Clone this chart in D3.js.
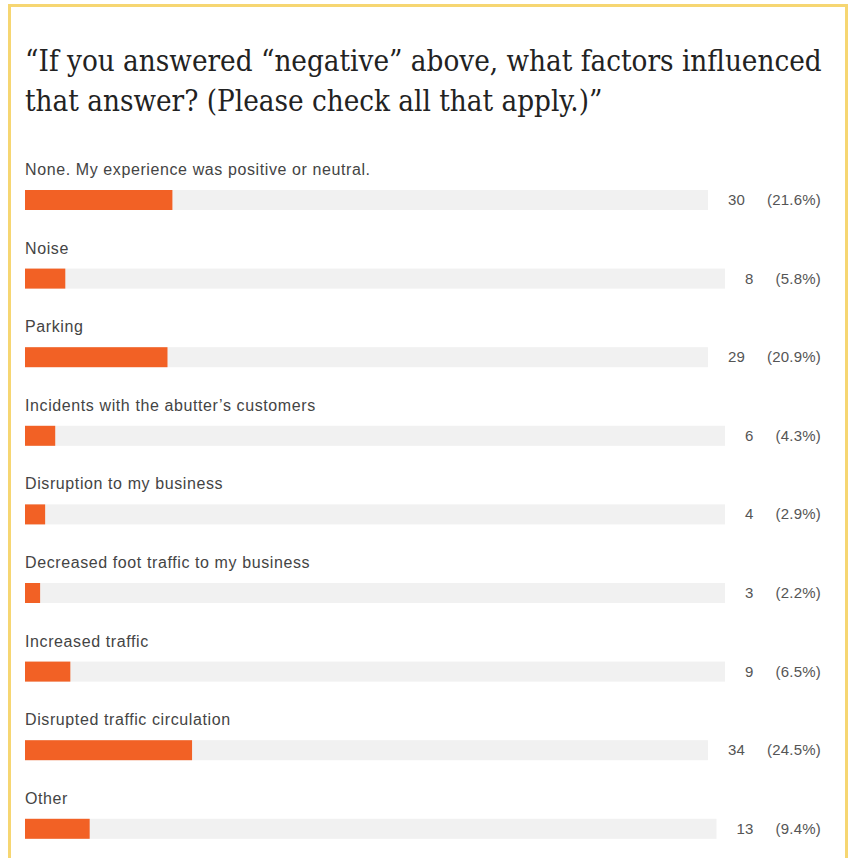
<!DOCTYPE html>
<html>
<head>
<meta charset="utf-8">
<script src="https://cdn.jsdelivr.net/npm/d3@7"></script>
<style>
  body { margin: 0; background: #fff; }
</style>
</head>
<body>
<div id="chart"></div>
<script>
const titleLines = [
  "\u201CIf you answered \u201Cnegative\u201D above, what factors influenced",
  "that answer? (Please check all that apply.)\u201D"
]
const categories = [
  "None. My experience was positive or neutral.",
  "Noise",
  "Parking",
  "Incidents with the abutter\u2019s customers",
  "Disruption to my business",
  "Decreased foot traffic to my business",
  "Increased traffic",
  "Disrupted traffic circulation",
  "Other"
]
const counts = [30, 8, 29, 6, 4, 3, 9, 34, 13]
const percents = [21.6, 5.8, 20.9, 4.3, 2.9, 2.2, 6.5, 24.5, 9.4]
const respondents = 139

const width = 853
const height = 858
const left = 25
const right = 821

const svg = d3.select("#chart")
  .append("svg")
  .attr("width", width)
  .attr("height", height)

// yellow frame
svg.append("rect")
  .attr("x", 9.5)
  .attr("y", 5.5)
  .attr("width", 837)
  .attr("height", 870)
  .attr("fill", "none")
  .attr("stroke", "#f6d672")
  .attr("stroke-width", 3)

// title, fitted to the frame width
const title = svg.append("g")
  .style("font-family", "'DejaVu Serif Condensed', 'DejaVu Serif', serif")
  .style("fill", "#222")

title.selectAll("text")
  .data(titleLines)
  .join("text")
  .attr("x", left)
  .attr("y", (d, i) => 71 + i * 40)
  .style("font-size", "28px")
  .text(d => d)

const w0 = title.select("text").node().getComputedTextLength()
title.selectAll("text").style("font-size", (28 * 797 / w0) + "px")

const y = d3.scaleBand()
  .domain(categories)
  .range([190, 190 + 78.6 * categories.length])

const rows = svg.selectAll("g.row")
  .data(categories.map((c, i) => ({ cat: c, count: counts[i], pct: percents[i] })))
  .join("g")
  .attr("class", "row")
  .attr("transform", d => `translate(0, ${y(d.cat)})`)

rows.append("text")
  .attr("x", left)
  .attr("y", -15)
  .style("font-family", "'Liberation Sans', Arial, sans-serif")
  .style("font-size", "16px")
  .style("letter-spacing", "0.6px")
  .style("fill", "#444")
  .text(d => d.cat)

rows.append("text")
  .attr("class", "pct")
  .attr("x", right)
  .attr("y", 15)
  .attr("text-anchor", "end")
  .style("font-family", "'Liberation Sans', Arial, sans-serif")
  .style("font-size", "15px")
  .style("letter-spacing", "0.2px")
  .style("fill", "#555")
  .text(d => `(${d.pct}%)`)

rows.each(function(d) {
  const g = d3.select(this)
  const pw = g.select("text.pct").node().getComputedTextLength()
  const cnt = g.append("text")
    .attr("x", right - pw - 22)
    .attr("y", 15)
    .attr("text-anchor", "end")
    .style("font-family", "'Liberation Sans', Arial, sans-serif")
    .style("font-size", "15px")
    .style("letter-spacing", "0.2px")
    .style("fill", "#555")
    .text(d.count)
  const cw = cnt.node().getComputedTextLength()
  const trackEnd = right - pw - 22 - cw - 20

  const x = d3.scaleLinear()
    .domain([0, respondents])
    .range([left, trackEnd])

  g.insert("rect", "text")
    .attr("x", x(0))
    .attr("y", 0)
    .attr("width", x(respondents) - x(0))
    .attr("height", 20)
    .attr("fill", "#f1f1f1")

  g.insert("rect", "text")
    .attr("x", x(0))
    .attr("y", 0)
    .attr("width", x(d.count) - x(0))
    .attr("height", 20)
    .attr("fill", "#f26125")
})
</script>
</body>
</html>
